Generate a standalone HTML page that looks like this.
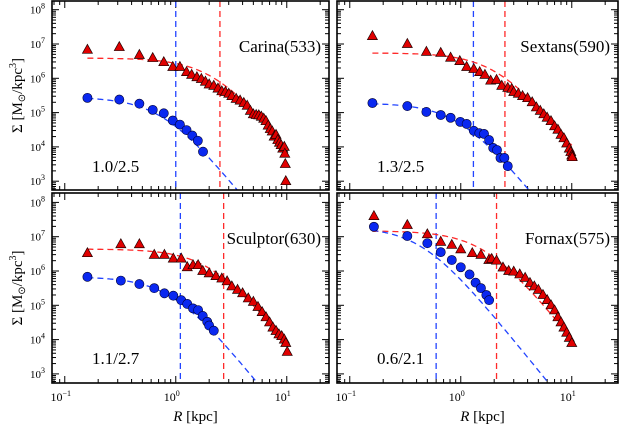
<!DOCTYPE html>
<html><head><meta charset="utf-8"><style>
html,body{margin:0;padding:0;background:#fff;}
svg{display:block;font-family:"Liberation Serif",serif;}
</style></head><body>
<svg id="fig" width="621" height="428" viewBox="0 0 621 428" xmlns="http://www.w3.org/2000/svg"></svg>
<script>
// ---- data ----
const panelNames = ["Carina(533)", "Sextans(590)", "Sculptor(630)", "Fornax(575)"];
const panelRatios = ["1.0/2.5", "1.3/2.5", "1.1/2.7", "0.6/2.1"];
const rBlue = [1.0, 1.3, 1.1, 0.6];
const rRed = [2.5, 2.5, 2.7, 2.1];
// fit parameters (log Sigma0, scale radius)
const fitRedLogS0 = [6.59, 6.74, 6.64, 7.17];
const fitRedA = [2.25, 2.17, 2.1, 1.66];
const fitBlueLogS0 = [5.45, 5.28, 5.83, 7.29];
const fitBlueA = [0.77, 0.98, 0.93, 0.45];
// Carina
const carinaTriR = [0.16,0.31,0.47,0.62,0.78,0.94,1.09,1.25,1.39,1.55,1.7,1.85,2.0,2.2,2.4,2.6,2.8,3.0,3.2,3.5,3.8,4.1,4.4,4.7,5.0,5.3,5.6,5.9,6.2,6.5,6.8,7.1,7.4,7.7,8.0,8.3,8.6,8.9,9.2,9.5,9.6,9.7,9.8];
const carinaTriS = [6.83,6.91,6.68,6.59,6.47,6.33,6.33,6.18,6.10,6.03,5.98,5.90,5.82,5.78,5.70,5.62,5.60,5.55,5.48,5.40,5.35,5.28,5.20,5.05,4.95,4.93,4.92,4.88,4.82,4.75,4.62,4.52,4.45,4.30,4.35,4.20,4.12,4.05,3.95,4.0,3.8,3.5,3.0];
const carinaCirR = [0.16,0.31,0.47,0.62,0.78,0.94,1.09,1.25,1.41,1.58,1.76];
const carinaCirS = [5.43,5.38,5.26,5.08,4.98,4.77,4.65,4.49,4.33,4.18,3.86];
// Sextans
const sextansTriR = [0.16,0.33,0.49,0.66,0.81,0.98,1.13,1.31,1.48,1.65,1.86,2.1,2.34,2.65,2.88,3.0,3.3,3.6,4.0,4.4,4.8,5.2,5.6,6.0,6.5,7.0,7.5,8.0,8.5,9.0,9.5,9.8,10.0,10.1];
const sextansTriS = [7.23,7.0,6.77,6.74,6.6,6.5,6.33,6.27,6.18,6.1,5.93,5.95,5.78,5.72,5.69,5.6,5.55,5.48,5.42,5.3,5.15,5.05,4.95,4.85,4.75,4.6,4.5,4.35,4.25,4.1,3.95,3.85,3.75,3.7];
const sextansCirR = [0.16,0.33,0.49,0.66,0.81,0.99,1.13,1.31,1.47,1.62,1.8,1.96,2.12,2.28,2.47,2.65];
const sextansCirS = [5.28,5.19,5.02,4.93,4.85,4.73,4.67,4.47,4.40,4.38,4.2,3.97,3.91,3.68,3.68,3.44];
// Sculptor
const sculptorTriR = [0.16,0.32,0.47,0.64,0.79,0.95,1.12,1.27,1.43,1.59,1.75,2.0,2.3,2.6,2.9,3.2,3.6,4.0,4.5,5.0,5.5,6.0,6.5,7.0,7.5,8.0,8.5,9.0,9.5,9.8,10.1];
const sculptorTriS = [6.52,6.78,6.78,6.47,6.47,6.36,6.36,6.11,6.17,6.17,6.0,5.93,5.85,5.78,5.7,5.55,5.45,5.35,5.2,5.1,4.95,4.8,4.65,4.5,4.35,4.25,4.15,4.1,4.0,3.9,3.64];
const sculptorCirR = [0.16,0.32,0.47,0.64,0.79,0.95,1.12,1.27,1.43,1.59,1.75,1.92,2.0,2.2];
const sculptorCirS = [5.83,5.72,5.62,5.5,5.35,5.28,5.15,5.04,4.91,4.86,4.69,4.52,4.41,4.26];
// Fornax
const fornaxTriR = [0.165,0.33,0.5,0.66,0.83,1.0,1.27,1.52,1.79,1.9,2.1,2.4,2.7,3.0,3.4,3.8,4.2,4.6,5.0,5.5,6.0,6.5,7.0,7.5,8.0,8.5,9.0,9.5,10.0];
const fornaxTriS = [7.6,7.34,7.07,6.85,6.76,6.63,6.52,6.47,6.32,6.35,6.3,6.1,6.0,5.98,5.9,5.8,5.65,5.55,5.45,5.3,5.15,5.0,4.85,4.65,4.5,4.35,4.2,4.05,3.9];
const fornaxCirR = [0.165,0.33,0.5,0.66,0.83,1.0,1.2,1.36,1.52,1.7,1.8];
const fornaxCirS = [7.29,7.02,6.81,6.55,6.32,6.11,5.9,5.66,5.5,5.3,5.15];

const triR = [carinaTriR, sextansTriR, sculptorTriR, fornaxTriR];
const triS = [carinaTriS, sextansTriS, sculptorTriS, fornaxTriS];
const cirR = [carinaCirR, sextansCirR, sculptorCirR, fornaxCirR];
const cirS = [carinaCirS, sextansCirS, sculptorCirS, fornaxCirS];
const xTickLabels = ["10", "10", "10"];
const xTickExp = ["\u22121", "0", "1"];
const yTickExp = ["8", "7", "6", "5", "4", "3"];

// ---- layout ----
const NS = "http://www.w3.org/2000/svg";
const svg = document.getElementById("fig");
const panels = [
  {x0:52, x1:329, y0:1, y1:190},
  {x0:337, x1:618, y0:1, y1:190},
  {x0:52, x1:329, y0:193, y1:383},
  {x0:337, x1:618, y0:193, y1:383}
];
const LXMIN = -1.115, DEC = 111, YDEC = 34.3;
function mk(tag, attrs, parent) {
  const e = document.createElementNS(NS, tag);
  for (const k in attrs) e.setAttribute(k, attrs[k]);
  (parent || svg).appendChild(e);
  return e;
}
panels.forEach((p, i) => {
  const top = i < 2;
  const y7 = top ? 44 : 236.7;
  const xs = r => p.x0 + (Math.log10(r) - LXMIN) * DEC;
  const ys = ls => y7 - (ls - 7) * YDEC;
  const g = mk("g", {});
  
  
  const clipId = "c" + i;
  const cp = mk("clipPath", {id: clipId}, g);
  mk("rect", {x:p.x0, y:p.y0, width:p.x1-p.x0, height:p.y1-p.y0}, cp);
  // ticks
  const tg = mk("g", {stroke:"#000", "stroke-width":1}, g);
  
  
  for (let d = -2; d <= 2; d++) {
    for (let m = 1; m <= 9; m++) {
      const x = xs(m * Math.pow(10, d));
      if (x <= p.x0 || x >= p.x1) continue;
      const L = m === 1 ? 7 : 4;
      mk("line", {x1:x, x2:x, y1:p.y1, y2:p.y1-L}, tg);
      mk("line", {x1:x, x2:x, y1:p.y0, y2:p.y0+L}, tg);
    }
  }
  for (let d = 2; d <= 8; d++) {
    for (let m = 1; m <= 9; m++) {
      const y = ys(d + Math.log10(m));
      if (y <= p.y0 || y >= p.y1) continue;
      const L = m === 1 ? 7 : 4;
      mk("line", {x1:p.x0, x2:p.x0+L, y1:y, y2:y}, tg);
      mk("line", {x1:p.x1, x2:p.x1-L, y1:y, y2:y}, tg);
    }
  }
  const cg = mk("g", {"clip-path":"url(#" + clipId + ")"}, g);
  // vertical lines
  const vb = mk("line", {x1:xs(rBlue[i]), x2:xs(rBlue[i]), y1:p.y0, y2:p.y1, stroke:"#2244ff", "stroke-width":1.3, "stroke-dasharray":"6,4"}, cg);
  
  
  const vr = mk("line", {x1:xs(rRed[i]), x2:xs(rRed[i]), y1:p.y0, y2:p.y1, stroke:"#ff2a2a", "stroke-width":1.3, "stroke-dasharray":"6,4"}, cg);
  
  
  // fit curves
  function fit(logS0, a, color, name, rmax) {
    let d = "";
    for (let k = 0; k <= 120; k++) {
      const lr = Math.log10(0.16) + k / 120 * (Math.log10(rmax) - Math.log10(0.16));
      const r = Math.pow(10, lr);
      const ls = logS0 - 2 * Math.log10(1 + (r / a) * (r / a));
      d += (k ? "L" : "M") + xs(r).toFixed(1) + "," + ys(ls).toFixed(1);
    }
    const e = mk("path", {d:d, fill:"none", stroke:color, "stroke-width":1.3, "stroke-dasharray":"6,4"}, cg);
    
    
  }
  fit(fitRedLogS0[i], fitRedA[i], "#ff2a2a", "red-fit-curve", 10);
  fit(fitBlueLogS0[i], fitBlueA[i], "#2244ff", "blue-fit-curve", 10);
  // markers
  cirR[i].forEach((r, k) => {
    const c = mk("circle", {cx:xs(r), cy:ys(cirS[i][k]), r:4.6, fill:"#0a28f0", stroke:"#000033", "stroke-width":0.6}, cg);
    
    
  });
  triR[i].forEach((r, k) => {
    const x = xs(r), y = ys(triS[i][k]);
    const t = mk("polygon", {points:`${x},${y-5.5} ${x-5},${y+3.5} ${x+5},${y+3.5}`, fill:"#e00000", stroke:"#200000", "stroke-width":0.7}, cg);
    
    
  });
  // frame
  const fr = mk("rect", {x:p.x0, y:p.y0, width:p.x1-p.x0, height:p.y1-p.y0, fill:"none", stroke:"#000", "stroke-width":1.6}, g);
  
  
  // labels
  const nm = mk("text", {x:p.x1-8, y:p.y0 + 51, "text-anchor":"end", "font-size":17}, g);
  nm.textContent = panelNames[i];
  
  
  const rt = mk("text", {x:p.x0+40, y:p.y0 + 171, "font-size":17}, g);
  rt.textContent = panelRatios[i];
  
  
  // y tick labels (left column only)
  if (i % 2 === 0) {
    yTickExp.forEach((e, k) => {
      const y = ys(8 - k);
      const t = mk("text", {x:p.x0-7, y:y+4, "text-anchor":"end", "font-size":11}, g);
      
      
      t.innerHTML = "10<tspan dy='-5' font-size='8'>" + e + "</tspan>";
    });
  }
  if (!top) {
    xTickExp.forEach((e, k) => {
      const x = xs(Math.pow(10, k - 1));
      const t = mk("text", {x:x-4, y:401, "text-anchor":"middle", "font-size":12}, g);
      
      
      t.innerHTML = xTickLabels[k] + "<tspan dy='-5' font-size='8'>" + e + "</tspan>";
    });
    const xl = mk("text", {x:(p.x0+p.x1)/2+5, y:421, "text-anchor":"middle", "font-size":15}, g);
    
    
    xl.innerHTML = "<tspan font-style='italic'>R</tspan> [kpc]";
  }
  if (i % 2 === 0) {
    const cy = (p.y0 + p.y1) / 2;
    const yl = mk("text", {x:0, y:0, transform:`translate(22,${cy}) rotate(-90)`, "text-anchor":"middle", "font-size":15}, g);
    
    
    yl.innerHTML = "\u03A3 [M<tspan font-size='10' dy='3'>\u2299</tspan><tspan dy='-3'>/kpc</tspan><tspan dy='-6' font-size='10'>3</tspan><tspan dy='6'>]</tspan>";
  }
});
</script>
</body></html>
